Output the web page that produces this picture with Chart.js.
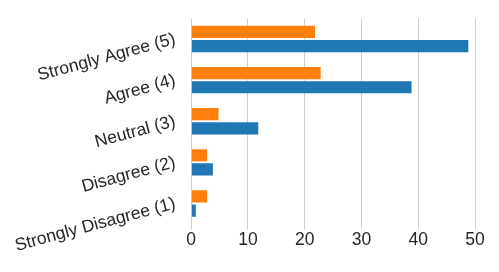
<!DOCTYPE html>
<html>
<head>
<meta charset="utf-8">
<script src="https://cdn.jsdelivr.net/npm/chart.js@4"></script>
<style>
  html, body { margin: 0; padding: 0; background: #fff; }
  #wrap { width: 499px; height: 272px; }
</style>
</head>
<body>
<div id="wrap"><canvas id="myChart" width="499" height="272"></canvas></div>
<script>
const categories = ["Strongly Agree (5)", "Agree (4)", "Neutral (3)", "Disagree (2)", "Strongly Disagree (1)"];
const orangeValues = [22, 23, 5, 3, 3];
const blueValues = [49, 39, 12, 4, 1];
const xTicks = [0, 10, 20, 30, 40, 50];

function getChart() {
    var ctx = document.getElementById("myChart");
    var barData = {
        labels: categories,
        datasets: [{
            label: "Series 1",
            data: orangeValues,
            backgroundColor: "#ff7f0e",
            borderColor: "rgba(255,255,255,0.35)",
            borderWidth: 1,
            barPercentage: 1,
            categoryPercentage: 0.69
        }, {
            label: "Series 2",
            data: blueValues,
            backgroundColor: "#1f77b4",
            borderColor: "rgba(255,255,255,0.35)",
            borderWidth: 1,
            barPercentage: 1,
            categoryPercentage: 0.69
        }]
    };

    var chartOptions = {
        indexAxis: 'y',
        responsive: false,
        animation: false,
        layout: { padding: { top: 17, right: 24, bottom: 20, left: 2 } },
        plugins: {
            legend: { display: false },
            tooltip: { enabled: false }
        },
        scales: {
            x: {
                min: 0,
                max: 50,
                afterBuildTicks: scale => { scale.ticks = xTicks.map(v => ({ value: v })); },
                border: { display: false },
                grid: { color: "#cccccc", lineWidth: 1, drawTicks: true, tickLength: 5, tickColor: "#cccccc" },
                ticks: {
                    color: "#262626",
                    padding: 1,
                    font: { family: "'Liberation Sans', Arial", size: 17.5 }
                }
            },
            y: {
                border: { display: false },
                grid: { display: false },
                ticks: {
                    color: "#262626",
                    minRotation: 15,
                    maxRotation: 15,
                    padding: 8,
                    font: { family: "'Liberation Sans', Arial", size: 17.5 }
                }
            }
        }
    };

    new Chart(ctx, {
        type: 'bar',
        data: barData,
        options: chartOptions
    });
}

getChart();
</script>
</body>
</html>
